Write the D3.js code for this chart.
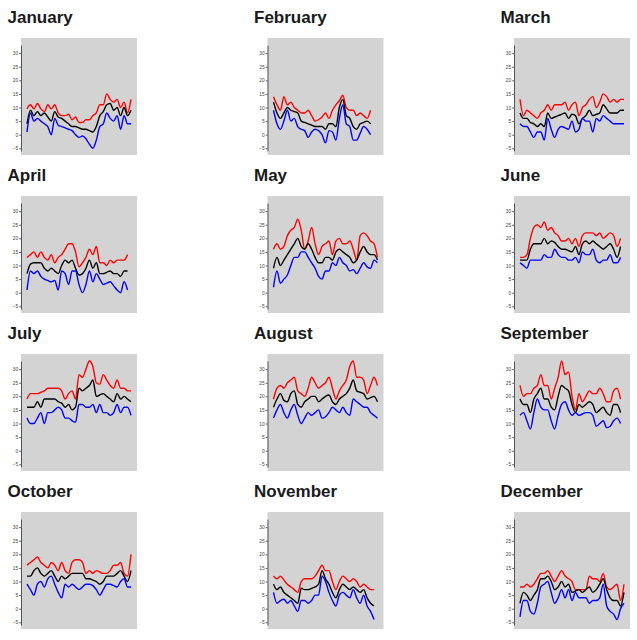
<!DOCTYPE html>
<html>
<head>
<meta charset="utf-8">
<script src="https://cdn.jsdelivr.net/npm/d3@7"></script>
<style>
  html, body { margin: 0; padding: 0; background: #fff; }
  svg { display: block; }
  .title { font-family: "Liberation Sans", Arial, Helvetica, sans-serif; font-weight: bold; font-size: 17px; fill: #1a1a1a; }
  .axis text { font-family: "Liberation Sans", Arial, sans-serif; font-size: 4.8px; fill: #444; }
  .axis path, .axis line { stroke: #333; stroke-width: 0.8; }
</style>
</head>
<body>
<svg id="chart" width="637" height="640"></svg>
<script>
const months = ["January","February","March","April","May","June","July","August","September","October","November","December"];
const yTicks = [-5, 0, 5, 10, 15, 20, 25, 30];

const maxTemps = [
  [9.5,11,9.5,11.5,9.5,8.5,11,9.5,11,8,7,7,7.5,5.5,6.5,4.5,4.5,5.5,5.5,7,8,11,11,15,13,12,13,10,12,8,13],
  [14,11,9,14,11,12,10,9,8,8,9,7,5,5.5,6.5,8,6,9,11,12.5,14.5,10,9,9,7,8,7,6,9],
  [13,7,9,8,7,6,8,9,11,9,11,11,11,12,9,11,12,7,10,11,13,14,10,12,15,14,12,13,12,13,13],
  [13,14,15,13,15,13,12,14,11,13,14,16,18,18,15,9.5,11,13,16,14,17,11,11,10,12,11,12,12,12,14],
  [16,18,16,17,21,23,24,27,23,16,19,24,18,14,17,18,19,14,19,20,18,18,19,16,12,21,22,21,19,18,13],
  [13,13,14,20,24,25,24,26,23,24,22,21,19,19,20,18,20,17,21,22,22,22,21,22,20,21,22,21,17,20],
  [19,21,21,21,21.5,22,23,23,23,23,22,19,21,22,19,28,27,30,33,31,25,24.5,28,26,24,23,26,23,23,22,22],
  [19,23,24,23,25,26,27,22,21,20,23,27,25,23,24,25,27,23,19,22,24,26,31,33,27,27,26,21,24,27,24],
  [24,20,21,21,23,24,28,24,24,19,23,27,33,28,29,20,15,21,18,20,22,21,21,23,21,18,18,22,23,19],
  [16,17,18,19,17,16,15,17,16,14,17,14,13,17,18,18,17,13,14,13,14,13.5,13,13,14,16,16,17,13,12,20],
  [12,11,12,10.5,9,8,7,6,10,11,11,11,12,14,16,14,14,10,7,10,12,11,10,11,10,8,9,8,7,7],
  [8,8,9,8,9,11,13,13,14,12,10,12,14,12,11,10,7,7,7,7,12,11,11,10,13,8,7,8,9,3,9]
];

const meanTemps = [
  [4,9,7,8.5,7,8,6.5,5,8.5,6.5,6,5,4,3,3,2.5,2,2,1.5,1,3,7,8.5,11,11.5,9,10,7,10,7,9],
  [12,8,6,8,10,9,8.5,8,5,4.5,4,3.5,3,3,3,2,4,4,3,10,13,7,6,3,2,4,4.5,5,4],
  [8,6,6,4.5,4,3,4,3,8,6,6.5,7,7.5,8,6,7.5,7,4,6,7,9,7,7.5,8,11,9.5,8,8,8,9,9],
  [7,10.5,11,11,11,9,8,9,8,7,10,12,11,12,9,6.5,7,9,12,9,11,7,7,7.5,8,7,7,6,8,8],
  [9,13,10,12,14,16,18,20,17,16,18,16,13,11,11,13,13,12,15,16,15,14,13,11,12,15,17,15,14,14,12],
  [12,12,12,16,18,18,18,20,18,19,18.5,17,16,16,15.5,15,17,14,18,19,18,19,18,17,16,17,18,16,13,17],
  [16,16,16,18,16,19,19,19,19,18,17.5,16,17,15,16,23,22,23,24,26,20,20.5,21,20,19,18,21,19,20,19,18],
  [16,19,21,18.5,18,21,22,17,16,18,19,20,20,18,19,20,20.5,18,17,19,20,21,23,26,22,21.5,21,19,19.5,20,18],
  [19,17,17,14,19,21,23,19,19,16,15,20,24,23,22,17,14,17,16,17,18,17,14,15,16,14,13,17,17,14],
  [12,12,14,15,13,12,13,14,12,10,12,11,12,13,13,13,13,11,11,10.5,10,9,10,12,12,12,13,14,12,10,14],
  [9,7,8,6,5,4,3,2,7.5,7,7,7.5,8,9,14,11,9,6,4,7,9,8,7,8,7,6,7,4,2,1],
  [2,6,5,3,5,7,11,11,12,10,7,8,10,8,9,6,6.5,7,6,7,8,6,7,9,11,7,4,3,3,1,6]
];

const minTemps = [
  [1,8,5,6,5,4,3,0,6,3.5,3,2.5,2,1.5,0,-1,-0.5,-1.5,-3.5,-5,-2,3,4,8,6,5,7,2,7,4,4],
  [9,4,2,5,9,5,6,3,2,1.5,-1,1,2,1.5,0,-3,1.5,1,-2,6,11,4,3,-2,-2,0.5,3,2,0],
  [4,3,3,1,-1,1,1,-2,6,2,-1,2,3,2.5,2,5,1,2,6,5,5,1,6,5,7,6,5,4,4,4,4],
  [1,8,7,8,6,5,4.5,4,4.5,1,8,7,3,8,8,3,0,3,8,4,7,5,3,3.5,4,2.5,1,0,4,1],
  [2,8,3.5,5,6.5,10,13,13,15,15,13,11,9,6,5,8,8,11,10,13,11,10,8,8.5,7,9,11,9.5,9,12,11],
  [11,10,9,12,12,12,12,14,13,13,16,14,13,13,12,12,13,11,15,14,14,16,12,11,12,12,14,11,11,13],
  [12,10,10,12,14,10,14,14,15,16,15,12,12,11,10.5,17,17,16,16,17,14,17,14,14,13,14,17,14,16,16,13],
  [12,15,17,14,12,15,17,13,10,12,14,13,14,15,12,12.5,14,16,15,14,16,14,13,19,18,17,16,16,14,13,12],
  [13,14,11,8,14,19,16,15,15,11,8,13,17,18,15,13,14,13,13.5,14,14,13,9,10,11,8.5,9,11,12,10],
  [9,7,5,9,10,8,11,12,9,6,4,9,8,9,8,7,8,9,9,8.5,7,5,7,9,9,8.5,8,10,11,8,8],
  [6,2,3,3.5,2,3,1,-1,3,3,2,3,5,5,12,10,6,3,1,5,6,5,4,7,4,2,5,1,-1,-4],
  [-3,3,3,-1,-2,2,8,9,10,6,2,4,7,4,7,3,6,4,4,4,2,3,3,4,9,1,-1,-2,-4,0,2]
];

const seriesDefs = [
  { data: maxTemps, color: "red" },
  { data: meanTemps, color: "black" },
  { data: minTemps, color: "blue" }
];

const panelW = 116, panelH = 117;
const colStep = 246.5, rowStep = 158;
const originX = 21, originY = 38;

const x = d3.scaleLinear().domain([1, 31]).range([6, 110]);
const y = d3.scaleLinear().domain([-6, 33]).range([113, 7]);

const line = d3.line()
  .x((d, i) => x(i + 1))
  .y(d => y(d))
  .curve(d3.curveMonotoneX);

const svg = d3.select("#chart");

months.forEach((m, mi) => {
  const col = mi % 3, row = Math.floor(mi / 3);
  const gx = originX + col * colStep, gy = originY + row * rowStep;

  svg.append("text")
    .attr("class", "title")
    .attr("x", gx - 13.5)
    .attr("y", gy - 15)
    .text(m);

  const g = svg.append("g").attr("transform", `translate(${gx},${gy})`);

  g.append("rect")
    .attr("width", panelW)
    .attr("height", panelH)
    .attr("fill", "#d3d3d3");

  g.append("g")
    .attr("class", "axis")
    .call(d3.axisLeft(y).tickValues(yTicks).tickSize(1.8).tickSizeOuter(0).tickPadding(1));

  seriesDefs.forEach(s => {
    g.append("path")
      .datum(s.data[mi])
      .attr("fill", "none")
      .attr("stroke", s.color)
      .attr("stroke-width", 1.4)
      .attr("stroke-linejoin", "round")
      .attr("d", line);
  });
});
</script>
</body>
</html>
